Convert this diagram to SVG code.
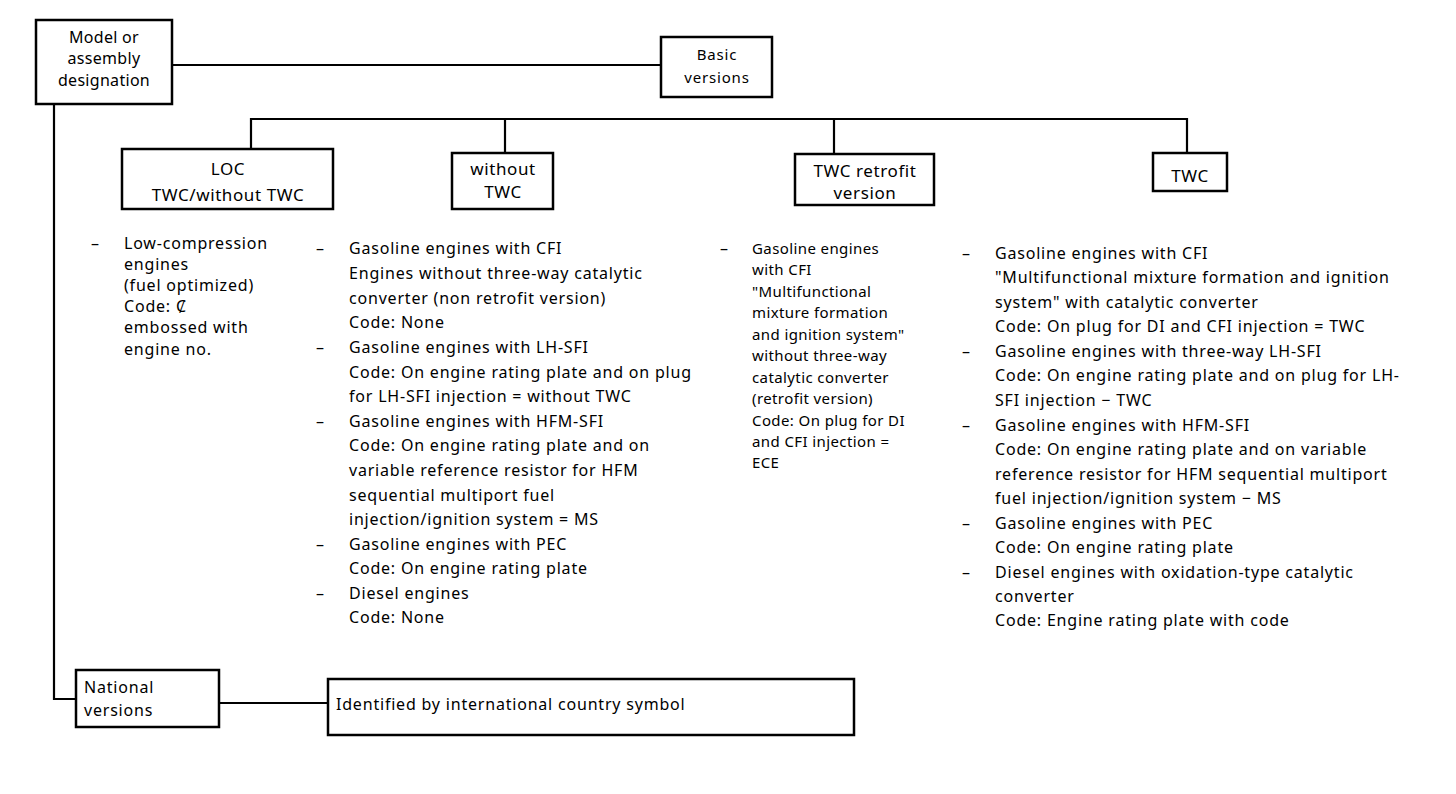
<svg xmlns="http://www.w3.org/2000/svg" width="1456" height="794" viewBox="0 0 1456 794">
<style>
.box{fill:#fff;stroke:#000;stroke-width:2.5}
.ln{fill:none;stroke:#000;stroke-width:2.2}
text{font-family:"Noto Sans","Open Sans","Liberation Sans",sans-serif;fill:#000}
.bt{font-size:17px;letter-spacing:0.6px;text-anchor:middle}
.mt{font-size:16px;letter-spacing:0.3px;text-anchor:middle}
.st{font-size:15px;letter-spacing:0.8px;text-anchor:middle}
.tx{font-size:16px;letter-spacing:0.8px}
.t3{font-size:15px;letter-spacing:0.4px}
</style>
<rect width="1456" height="794" fill="#fff"/>
<g id="connectors">
<polyline class="ln" points="172,65 661,65"/>
<polyline class="ln" points="54,104 54,699 76,699"/>
<polyline class="ln" points="251,149 251,119 1187,119 1187,153"/>
<polyline class="ln" points="505,119 505,153"/>
<polyline class="ln" points="834,119 834,154"/>
<polyline class="ln" points="219,703 328,703"/>
</g>
<g id="model">
<rect class="box" x="36" y="20" width="136" height="84"/>
<text class="mt" x="104" y="43">Model or</text>
<text class="mt" x="104" y="64">assembly</text>
<text class="mt" x="104" y="86">designation</text>
</g>
<g id="basic">
<rect class="box" x="661" y="37" width="111" height="60"/>
<text class="st" x="717" y="60">Basic</text>
<text class="st" x="717" y="83">versions</text>
</g>
<g id="loc">
<rect class="box" x="122" y="149" width="211" height="60"/>
<text class="bt" x="228" y="175">LOC</text>
<text class="bt" x="228" y="201">TWC/without TWC</text>
</g>
<g id="without">
<rect class="box" x="452" y="153" width="101" height="56"/>
<text class="bt" x="503" y="175">without</text>
<text class="bt" x="503" y="198">TWC</text>
</g>
<g id="retrofit">
<rect class="box" x="795" y="154" width="139" height="51"/>
<text class="bt" x="865" y="177">TWC retrofit</text>
<text class="bt" x="865" y="199">version</text>
</g>
<g id="twc">
<rect class="box" x="1153" y="153" width="74" height="38"/>
<text class="bt" x="1190" y="182">TWC</text>
</g>
<g id="national">
<rect class="box" x="76" y="670" width="143" height="57"/>
<text class="tx" x="84" y="693">National</text>
<text class="tx" x="84" y="716">versions</text>
</g>
<g id="identified">
<rect class="box" x="328" y="679" width="526" height="56"/>
<text class="tx" x="336" y="710">Identified by international country symbol</text>
</g>
<g id="col1">
<text class="tx" x="91" y="249">–</text>
<text class="tx" x="124" y="249">Low-compression</text>
<text class="tx" x="124" y="270">engines</text>
<text class="tx" x="124" y="291">(fuel optimized)</text>
<text class="tx" x="124" y="312">Code: Ȼ</text>
<text class="tx" x="124" y="333">embossed with</text>
<text class="tx" x="124" y="355">engine no.</text>
</g>
<g id="col2">
<text class="tx" x="316" y="254">–</text>
<text class="tx" x="316" y="353">–</text>
<text class="tx" x="316" y="427">–</text>
<text class="tx" x="316" y="550">–</text>
<text class="tx" x="316" y="599">–</text>
<text class="tx" x="349" y="254">Gasoline engines with CFI</text>
<text class="tx" x="349" y="279">Engines without three-way catalytic</text>
<text class="tx" x="349" y="304">converter (non retrofit version)</text>
<text class="tx" x="349" y="328">Code: None</text>
<text class="tx" x="349" y="353">Gasoline engines with LH-SFI</text>
<text class="tx" x="349" y="378">Code: On engine rating plate and on plug</text>
<text class="tx" x="349" y="402">for LH-SFI injection = without TWC</text>
<text class="tx" x="349" y="427">Gasoline engines with HFM-SFI</text>
<text class="tx" x="349" y="451">Code: On engine rating plate and on</text>
<text class="tx" x="349" y="476">variable reference resistor for HFM</text>
<text class="tx" x="349" y="501">sequential multiport fuel</text>
<text class="tx" x="349" y="525">injection/ignition system = MS</text>
<text class="tx" x="349" y="550">Gasoline engines with PEC</text>
<text class="tx" x="349" y="574">Code: On engine rating plate</text>
<text class="tx" x="349" y="599">Diesel engines</text>
<text class="tx" x="349" y="623">Code: None</text>
</g>
<g id="col3">
<text class="tx" x="720" y="254">–</text>
<text class="t3" x="752" y="254">Gasoline engines</text>
<text class="t3" x="752" y="275">with CFI</text>
<text class="t3" x="752" y="297">"Multifunctional</text>
<text class="t3" x="752" y="318">mixture formation</text>
<text class="t3" x="752" y="340">and ignition system"</text>
<text class="t3" x="752" y="361">without three-way</text>
<text class="t3" x="752" y="383">catalytic converter</text>
<text class="t3" x="752" y="404">(retrofit version)</text>
<text class="t3" x="752" y="426">Code: On plug for DI</text>
<text class="t3" x="752" y="447">and CFI injection =</text>
<text class="t3" x="752" y="468">ECE</text>
</g>
<g id="col4">
<text class="tx" x="962" y="259">–</text>
<text class="tx" x="962" y="357">–</text>
<text class="tx" x="962" y="431">–</text>
<text class="tx" x="962" y="529">–</text>
<text class="tx" x="962" y="578">–</text>
<text class="tx" x="995" y="259">Gasoline engines with CFI</text>
<text class="tx" x="995" y="283">"Multifunctional mixture formation and ignition</text>
<text class="tx" x="995" y="308">system" with catalytic converter</text>
<text class="tx" x="995" y="332">Code: On plug for DI and CFI injection = TWC</text>
<text class="tx" x="995" y="357">Gasoline engines with three-way LH-SFI</text>
<text class="tx" x="995" y="381">Code: On engine rating plate and on plug for LH-</text>
<text class="tx" x="995" y="406">SFI injection − TWC</text>
<text class="tx" x="995" y="431">Gasoline engines with HFM-SFI</text>
<text class="tx" x="995" y="455">Code: On engine rating plate and on variable</text>
<text class="tx" x="995" y="480">reference resistor for HFM sequential multiport</text>
<text class="tx" x="995" y="504">fuel injection/ignition system − MS</text>
<text class="tx" x="995" y="529">Gasoline engines with PEC</text>
<text class="tx" x="995" y="553">Code: On engine rating plate</text>
<text class="tx" x="995" y="578">Diesel engines with oxidation-type catalytic</text>
<text class="tx" x="995" y="602">converter</text>
<text class="tx" x="995" y="626">Code: Engine rating plate with code</text>
</g>
</svg>
